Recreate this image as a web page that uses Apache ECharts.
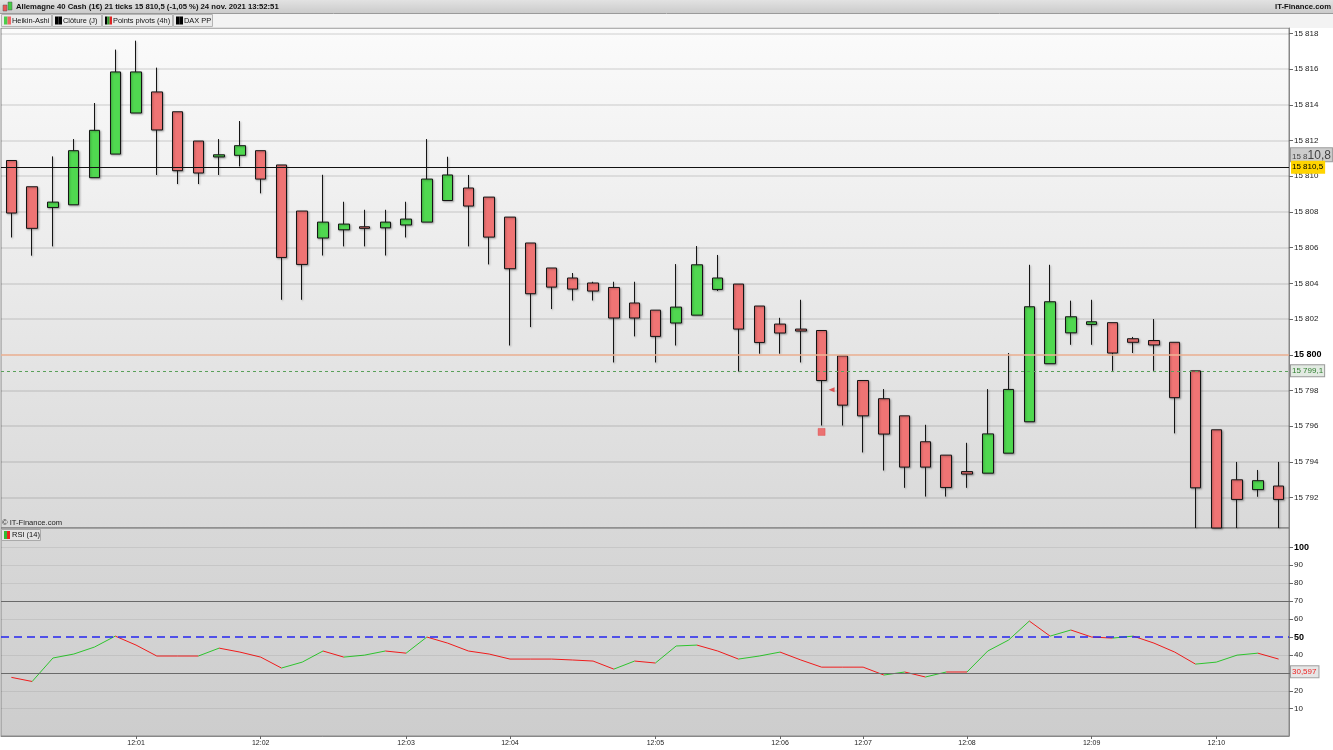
<!DOCTYPE html>
<html>
<head>
<meta charset="utf-8">
<script src="https://cdn.jsdelivr.net/npm/echarts@6/dist/echarts.min.js"></script>
<style>
html,body{margin:0;padding:0;background:#fff;}
#chart{width:1333px;height:750px;}
</style>
</head>
<body>
<div id="chart"></div>
<script>
// ---- data ----
const timeLabels = ['', '', '', '', '', '', '12:01', '', '', '', '', '', '12:02', '', '', '', '', '', '', '12:03',
  '', '', '', '', '12:04', '', '', '', '', '', '', '12:05', '', '', '', '', '', '12:06', '', '', '', '12:07',
  '', '', '', '', '12:08', '', '', '', '', '', '12:09', '', '', '', '', '', '12:10', '', '', ''];

const haOpen = [15810.88, 15809.41, 15808.25, 15808.40, 15809.92, 15811.24, 15813.54, 15814.72, 15813.61, 15811.97,
  15811.08, 15811.17, 15811.43, 15810.63, 15808.05, 15806.54, 15807.00, 15807.17, 15807.11, 15807.27,
  15807.43, 15808.64, 15809.34, 15808.83, 15807.71, 15806.26, 15804.86, 15804.30, 15804.02, 15803.77,
  15802.90, 15802.50, 15801.78, 15802.22, 15803.66, 15803.96, 15802.73, 15801.72, 15801.44, 15801.36,
  15799.94, 15798.56, 15797.54, 15796.58, 15795.13, 15794.38, 15793.46, 15793.37, 15794.49, 15796.25,
  15799.50, 15801.23, 15801.70, 15801.80, 15800.90, 15800.80, 15800.70, 15799.10, 15795.80, 15793.00,
  15792.45, 15792.65];
const haClose = [15807.94, 15807.08, 15808.55, 15811.43, 15812.57, 15815.84, 15815.84, 15812.59, 15810.31, 15810.18,
  15811.20, 15811.71, 15809.84, 15805.45, 15805.06, 15807.43, 15807.32, 15807.08, 15807.43, 15807.60,
  15809.84, 15810.07, 15808.33, 15806.59, 15804.82, 15803.42, 15803.79, 15803.68, 15803.57, 15802.06,
  15802.06, 15801.03, 15802.67, 15805.04, 15804.30, 15801.44, 15800.69, 15801.22, 15801.33, 15798.56,
  15797.18, 15796.58, 15795.56, 15793.71, 15793.71, 15792.57, 15793.32, 15795.57, 15798.06, 15802.69,
  15802.97, 15802.13, 15801.85, 15800.10, 15800.70, 15800.55, 15797.60, 15792.55, 15790.30, 15791.90,
  15792.95, 15791.90];
const haLow = [15806.57, 15805.55, 15806.07, 15808.40, 15809.92, 15811.24, 15813.54, 15810.07, 15809.56, 15809.56,
  15810.07, 15810.55, 15809.04, 15803.08, 15803.08, 15805.56, 15806.07, 15806.07, 15805.56, 15806.57,
  15807.43, 15808.64, 15806.07, 15805.06, 15800.52, 15801.55, 15802.56, 15803.04, 15803.04, 15799.57,
  15801.03, 15799.57, 15800.52, 15802.22, 15803.57, 15799.06, 15800.06, 15800.06, 15799.57, 15796.04,
  15796.04, 15794.53, 15793.52, 15792.55, 15792.06, 15792.06, 15792.55, 15793.37, 15794.49, 15796.25,
  15799.50, 15800.56, 15800.56, 15799.10, 15800.10, 15799.10, 15795.60, 15790.30, 15790.30, 15790.30,
  15792.05, 15790.30];
const haHigh = [15810.88, 15809.41, 15811.11, 15812.08, 15814.10, 15817.09, 15817.59, 15816.08, 15813.61, 15811.97,
  15812.08, 15813.09, 15811.43, 15810.63, 15808.05, 15810.08, 15808.57, 15808.12, 15808.12, 15808.57,
  15812.08, 15811.09, 15810.07, 15808.83, 15807.71, 15806.26, 15804.86, 15804.58, 15804.09, 15804.09,
  15804.09, 15802.50, 15805.08, 15806.09, 15805.59, 15803.96, 15802.73, 15802.07, 15803.08, 15801.36,
  15799.94, 15798.56, 15798.08, 15796.58, 15796.08, 15794.38, 15795.07, 15798.08, 15800.10, 15805.04,
  15805.04, 15803.03, 15803.08, 15801.80, 15801.00, 15802.00, 15800.70, 15799.10, 15795.80, 15794.00,
  15793.55, 15794.00];

const rsi = [27.5, 25.2, 38.3, 40.5, 44.4, 50.5, 45.5, 39.4, 39.4, 39.4, 43.8, 41.6, 38.8, 32.7, 36.0, 42.2,
  38.8, 39.9, 42.2, 41.0, 50.0, 46.6, 42.2, 40.5, 37.7, 37.7, 37.7, 37.2, 36.6, 32.1, 36.6, 35.5, 45.0,
  45.5, 42.2, 37.7, 39.4, 41.6, 37.2, 33.2, 33.2, 33.2, 28.8, 30.5, 27.7, 30.5, 30.5, 42.2, 48.3, 58.9,
  50.5, 53.9, 50.0, 49.4, 50.5, 46.6, 41.6, 34.9, 36.0, 39.9, 41.0, 37.7];

const closeLevel = 15810.5;      // Clôture (J)
const closeText = '15 810,5';
const bidLevel = 15811.2;        // grey price tag position
const bidSmall = '15 8';
const bidBig = '10,8';
const pivotLevel = 15800;        // DAX PP
const ppLevel = 15799.1;         // Points pivots (4h)
const ppText = '15 799,1';
const pivotSquare = [[39, 15795.68]];
const pivotArrow = [[39, 15798.04]];

const rsiLast = 30.597;
const rsiLastText = '30,597';
const rsiBands = [70, 30];
const rsiMid = 50;
const rsiGrid = [10, 20, 40, 60, 80, 90, 100];
const rsiTicks = [10, 20, 30, 40, 50, 60, 70, 80, 90, 100];

const priceMin = 15790.3, priceMax = 15818.3;
const rsiMin = -5.2, rsiMax = 110.8;

// ---- chart ----
const FONT = 'Liberation Sans, Arial, sans-serif';
const chart = echarts.init(document.getElementById('chart'), null, {renderer: 'canvas'});

const candles = haOpen.map((o, i) => [o, haClose[i], haLow[i], haHigh[i]]);
const rsiSegments = rsi.slice(0, -1).map((v, i) => [i, v, rsi[i + 1]]);

function fmtPrice(v) {
  const s = String(Math.round(v));
  return s.slice(0, s.length - 3) + ' ' + s.slice(-3);
}

const legendItems = [
  {x: 1, w: 50, text: 'Heikin-Ashi', icon: ['#4ccc4c', '#ee6666']},
  {x: 52, w: 49, text: 'Clôture (J)', icon: ['#000', '#000']},
  {x: 102, w: 70, text: 'Points pivots (4h)', icon: ['#000', '#2a9a2a', '#dd2222']},
  {x: 173, w: 39, text: 'DAX PP', icon: ['#000', '#000']}
];

const graphics = [
  {type: 'rect', shape: {x: 0, y: 0, width: 1333, height: 13}, z: 0,
   style: {fill: new echarts.graphic.LinearGradient(0, 0, 0, 1, [{offset: 0, color: '#e2e2e2'}, {offset: 1, color: '#cbcbcb'}])}},
  {type: 'line', shape: {x1: 0, y1: 13.5, x2: 1333, y2: 13.5}, style: {stroke: '#9a9a9a', lineWidth: 1}},
  {type: 'rect', shape: {x: 0, y: 14, width: 1333, height: 14}, style: {fill: '#f3f3f3'}},
  // title icon
  {type: 'rect', shape: {x: 3, y: 5, width: 4, height: 6}, style: {fill: '#ee5555', stroke: '#555', lineWidth: 0.5}},
  {type: 'rect', shape: {x: 8, y: 2, width: 4, height: 8}, style: {fill: '#44cc44', stroke: '#555', lineWidth: 0.5}},
  {type: 'text', x: 16, y: 7, style: {text: 'Allemagne 40 Cash (1€) 21 ticks 15 810,5 (-1,05 %) 24 nov. 2021 13:52:51',
    fill: '#111', font: 'bold 7.7px ' + FONT, verticalAlign: 'middle'}},
  {type: 'text', x: 1331, y: 7, style: {text: 'IT-Finance.com', fill: '#111', font: 'bold 7.7px ' + FONT,
    align: 'right', verticalAlign: 'middle'}},
  {type: 'text', x: 2, y: 523, z: 10, style: {text: '© IT-Finance.com', fill: '#222', font: '7.6px ' + FONT, verticalAlign: 'middle'}},
  {type: 'rect', shape: {x: 1.5, y: 529.5, width: 39, height: 11}, z: 10, style: {fill: '#e4e4e4', stroke: '#aaa', lineWidth: 1}},
  {type: 'rect', shape: {x: 4, y: 531, width: 3, height: 8}, z: 11, style: {fill: '#33bb33'}},
  {type: 'rect', shape: {x: 7, y: 531, width: 3, height: 8}, z: 11, style: {fill: '#ee2222'}},
  {type: 'text', x: 12, y: 535, z: 11, style: {text: 'RSI (14)', fill: '#111', font: '7.5px ' + FONT, verticalAlign: 'middle'}}
];
legendItems.forEach(it => {
  graphics.push({type: 'rect', shape: {x: it.x + 0.5, y: 14.5, width: it.w, height: 12}, style: {fill: '#eaeaea', stroke: '#b5b5b5', lineWidth: 1}});
  const n = it.icon.length, iw = 7 / n;
  it.icon.forEach((c, k) => {
    graphics.push({type: 'rect', shape: {x: it.x + 3 + k * iw, y: 16.5, width: iw, height: 8}, style: {fill: c}});
  });
  graphics.push({type: 'text', x: it.x + 11, y: 20.8, style: {text: it.text, fill: '#111', font: '7.4px ' + FONT, verticalAlign: 'middle'}});
});

const option = {
  animation: false,
  backgroundColor: '#ffffff',
  textStyle: {fontFamily: FONT},
  graphic: {elements: graphics},
  grid: [
    {left: 1, right: 44, top: 28, height: 500, show: true, borderColor: '#8a8a8a', borderWidth: 1,
     backgroundColor: new echarts.graphic.LinearGradient(0, 0, 0, 1, [{offset: 0, color: '#fbfbfb'}, {offset: 1, color: '#d9d9d9'}])},
    {left: 1, right: 44, top: 528, height: 208, show: true, borderColor: '#8a8a8a', borderWidth: 1,
     backgroundColor: new echarts.graphic.LinearGradient(0, 0, 0, 1, [{offset: 0, color: '#d8d8d8'}, {offset: 1, color: '#cdcdcd'}])}
  ],
  xAxis: [
    {type: 'category', gridIndex: 0, data: timeLabels, boundaryGap: true, show: false},
    {type: 'category', gridIndex: 1, data: timeLabels, boundaryGap: true,
     axisLine: {show: true, onZero: false, lineStyle: {color: '#888'}},
     axisTick: {show: true, alignWithLabel: true, length: 3, interval: (i, v) => v !== '', lineStyle: {color: '#666'}},
     axisLabel: {show: true, interval: (i, v) => v !== '', fontSize: 7, color: '#222', margin: 4, fontFamily: FONT},
     splitLine: {show: false}}
  ],
  yAxis: [
    {type: 'value', gridIndex: 0, position: 'right', min: priceMin, max: priceMax, splitNumber: 14,
     axisLine: {show: true, lineStyle: {color: '#888'}},
     axisTick: {show: true, length: 4, lineStyle: {color: '#666'}},
     axisLabel: {show: true, showMinLabel: false, showMaxLabel: false, fontSize: 8, color: '#222', margin: 5,
       formatter: v => v === pivotLevel ? '{b|' + fmtPrice(v) + '}' : fmtPrice(v),
       rich: {b: {fontWeight: 'bold', fontSize: 9, color: '#000'}}},
     splitLine: {show: true, lineStyle: {color: 'rgba(0,0,0,0.085)', width: 2}}},
    {type: 'value', gridIndex: 1, position: 'right', min: rsiMin, max: rsiMax, splitNumber: 12,
     axisLine: {show: true, lineStyle: {color: '#888'}},
     axisTick: {show: true, length: 4, customValues: rsiTicks, lineStyle: {color: '#666'}},
     axisLabel: {show: true, customValues: rsiTicks, fontSize: 8, color: '#222', margin: 5,
       formatter: v => (v === 100 || v === 50) ? '{b|' + v + '}' : String(v),
       rich: {b: {fontWeight: 'bold', fontSize: 9, color: '#000'}}},
     splitLine: {show: false}}
  ],
  series: [
    {type: 'candlestick', xAxisIndex: 0, yAxisIndex: 0, data: candles, barWidth: 11, clip: true,
     itemStyle: {color: '#50d850', color0: '#ef7474', borderColor: '#151515', borderColor0: '#151515', borderWidth: 1,
       shadowColor: 'rgba(0,0,0,0.3)', shadowBlur: 2, shadowOffsetX: 1, shadowOffsetY: 1},
     markLine: {silent: true, symbol: ['none', 'none'], animation: false,
       data: [
         {yAxis: pivotLevel, lineStyle: {color: '#f0b496', width: 1.5, type: 'solid'}, label: {show: false}},
         {yAxis: ppLevel, lineStyle: {color: '#5aa05a', width: 1, type: [3, 3]},
          label: {show: true, position: 'end', distance: 2, formatter: ppText, color: '#2e7d2e', fontSize: 8,
            backgroundColor: '#e2eae2', borderColor: '#999', borderWidth: 1, padding: [2, 1, 1, 1]}},
         {yAxis: bidLevel, lineStyle: {color: 'rgba(0,0,0,0)', width: 0},
          label: {show: true, position: 'end', distance: 2, formatter: '{s|' + bidSmall + '}{l|' + bidBig + '}',
            backgroundColor: '#cdcdcd', borderColor: '#9a9a9a', borderWidth: 1, padding: [1, 1, 0, 1],
            rich: {s: {fontSize: 8, color: '#444', verticalAlign: 'bottom'}, l: {fontSize: 12, color: '#444'}}}},
         {yAxis: closeLevel, lineStyle: {color: '#111', width: 1, type: 'solid'},
          label: {show: true, position: 'end', distance: 2, formatter: closeText, color: '#000', fontSize: 8,
            backgroundColor: '#ffd400', padding: [3, 2, 2, 1]}}
       ]}},
    {type: 'scatter', xAxisIndex: 0, yAxisIndex: 0, data: pivotSquare, symbol: 'rect', symbolSize: 7,
     itemStyle: {color: '#ee5555', borderColor: '#d44', borderWidth: 0.5}, silent: true},
    {type: 'scatter', xAxisIndex: 0, yAxisIndex: 0, data: pivotArrow, symbol: 'triangle', symbolSize: [5, 6],
     symbolRotate: 90, symbolOffset: [10, 0], itemStyle: {color: '#dd3333'}, silent: true},
    {type: 'line', xAxisIndex: 1, yAxisIndex: 1, data: [], symbol: 'none', silent: true,
     markLine: {silent: true, symbol: ['none', 'none'], animation: false,
       data: rsiGrid.map(v => ({yAxis: v, lineStyle: {color: 'rgba(0,0,0,0.07)', width: 1, type: 'solid'}, label: {show: false}}))
         .concat(rsiBands.map(v => ({yAxis: v, lineStyle: {color: '#6a6a6a', width: 1, type: 'solid'}, label: {show: false}})))
         .concat([{yAxis: rsiMid, lineStyle: {color: '#2626f0', width: 1.5, type: [8, 5]}, label: {show: false}}])
     }},
    {type: 'custom', xAxisIndex: 1, yAxisIndex: 1, data: rsiSegments, silent: true, encode: {x: 0, y: [1, 2]},
     renderItem: function (params, api) {
       const i = api.value(0);
       const v0 = api.value(1), v1 = api.value(2);
       const p0 = api.coord([i, v0]);
       const p1 = api.coord([i + 1, v1]);
       return {type: 'line', shape: {x1: p0[0], y1: p0[1], x2: p1[0], y2: p1[1]},
         style: {stroke: v1 > v0 ? '#2ec42e' : '#f01c1c', lineWidth: 1}};
     },
     markLine: {silent: true, symbol: ['none', 'none'], animation: false,
       data: [{yAxis: rsiLast, lineStyle: {color: 'rgba(0,0,0,0)', width: 0},
         label: {show: true, position: 'end', distance: 2, formatter: rsiLastText, color: '#ee2222', fontSize: 8,
           backgroundColor: '#e6e6e6', borderColor: '#a0a0a0', borderWidth: 1, padding: [2, 2, 1, 1]}}]}}
  ]
};
chart.setOption(option);
</script>
</body>
</html>
